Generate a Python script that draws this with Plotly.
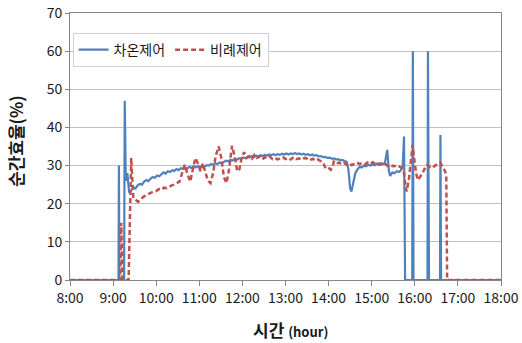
import plotly.graph_objects as go

# ---- data (time in decimal hours, efficiency in %) ----
x_ticks = [8, 9, 10, 11, 12, 13, 14, 15, 16, 17, 18]
x_tick_labels = ["8:00", "9:00", "10:00", "11:00", "12:00", "13:00",
                 "14:00", "15:00", "16:00", "17:00", "18:00"]

blue_name = "차온제어"
blue_t = [8.0, 9.125, 9.135, 9.145, 9.255, 9.27, 9.295, 9.33, 9.37, 9.42, 9.47, 9.52, 9.57, 9.62, 9.67,
          9.72, 9.77, 9.82, 9.87, 9.92, 9.97, 10.02, 10.07, 10.12, 10.17, 10.22, 10.27, 10.32, 10.37,
          10.42, 10.47, 10.52, 10.57, 10.62, 10.67, 10.72, 10.77, 10.82, 10.87, 10.92, 10.97, 11.02,
          11.07, 11.12, 11.17, 11.22, 11.27, 11.32, 11.37, 11.42, 11.47, 11.52, 11.57, 11.62, 11.67,
          11.72, 11.77, 11.82, 11.87, 11.92, 11.97, 12.02, 12.07, 12.12, 12.17, 12.22, 12.27, 12.32,
          12.37, 12.42, 12.47, 12.52, 12.57, 12.62, 12.67, 12.72, 12.77, 12.82, 12.87, 12.92, 12.97,
          13.02, 13.07, 13.12, 13.17, 13.22, 13.27, 13.32, 13.37, 13.42, 13.47, 13.52, 13.57, 13.62,
          13.67, 13.72, 13.77, 13.82, 13.87, 13.92, 13.97, 14.02, 14.07, 14.12, 14.17, 14.22, 14.27,
          14.32, 14.37, 14.42, 14.46, 14.5, 14.53, 14.57, 14.62, 14.67, 14.72, 14.77, 14.82, 14.87,
          14.92, 14.97, 15.02, 15.07, 15.12, 15.17, 15.22, 15.27, 15.31, 15.36, 15.4, 15.43, 15.48,
          15.53, 15.58, 15.63, 15.68, 15.72, 15.75, 15.775, 15.94, 15.955, 15.97, 16.295, 16.305,
          16.33, 16.585, 16.595, 16.61, 18.0]
blue_v = [0, 0, 30, 0, 0, 47, 26, 28, 23.2, 23.5, 24.3, 24, 24.8, 25.2, 25,
          25.8, 26.2, 25.9, 26.6, 27, 26.8, 27.4, 27.2, 27.8, 28.2, 27.9, 28.5, 28.3, 28.8,
          28.6, 29.1, 28.8, 29.3, 29.1, 29.5, 29.2, 29.7, 29.4, 29.8, 29.5, 29.9, 29.6,
          30, 29.7, 30.1, 30, 30.4, 30.2, 30.6, 30.4, 30.8, 30.6, 31, 31.3, 31.1,
          31.5, 31.3, 31.7, 31.5, 31.9, 31.7, 32.1, 31.9, 32.3, 32.1, 32.5, 32.2, 32.6,
          32.4, 32.7, 32.5, 32.8, 32.6, 32.9, 32.7, 33, 32.7, 33, 32.8, 33.1, 32.9,
          33.2, 32.9, 33.2, 33, 33.3, 33, 33.2, 32.9, 33.1, 32.8, 33, 32.7, 32.9,
          32.6, 32.7, 32.4, 32.5, 32.2, 32.3, 32, 32.1, 31.8, 31.9, 31.6, 31.7, 31.4,
          31.5, 31.2, 31, 29, 24, 23.2, 25.5, 28, 29, 29.7, 29.5, 30, 29.8,
          30.2, 30, 30.3, 30.1, 30.5, 30.2, 30.6, 30.4, 30.8, 34.1, 28.5, 27.3, 28.2,
          28, 28.5, 28.3, 28.8, 30, 37.6, 0, 0, 60, 0, 0, 60,
          0, 0, 38, 0, 0]

red_name = "비례제어"
red_t = [8.0, 9.165, 9.19, 9.215, 9.36, 9.42, 9.47, 9.52, 9.58, 9.63, 9.7, 9.76, 9.82, 9.88, 9.94,
         10.0, 10.06, 10.12, 10.18, 10.24, 10.3, 10.36, 10.42, 10.48, 10.54, 10.6, 10.66, 10.72,
         10.79, 10.85, 10.91, 10.97, 11.03, 11.08, 11.14, 11.2, 11.26, 11.32, 11.38, 11.45, 11.51,
         11.57, 11.63, 11.69, 11.76, 11.82, 11.88, 11.93, 11.98, 12.04, 12.1, 12.16, 12.22, 12.28,
         12.34, 12.4, 12.46, 12.52, 12.58, 12.64, 12.7, 12.76, 12.82, 12.88, 12.94, 13.0, 13.06,
         13.12, 13.19, 13.25, 13.31, 13.38, 13.44, 13.51, 13.57, 13.63, 13.69, 13.75, 13.81, 13.87,
         13.93, 13.99, 14.05, 14.09, 14.12, 14.18, 14.24, 14.3, 14.36, 14.42, 14.48, 14.54, 14.6,
         14.66, 14.72, 14.78, 14.84, 14.9, 14.96, 15.02, 15.08, 15.14, 15.2, 15.26, 15.32, 15.38,
         15.44, 15.5, 15.56, 15.62, 15.68, 15.74, 15.78, 15.81, 15.86, 15.91, 15.95, 15.99, 16.03,
         16.07, 16.12, 16.18, 16.24, 16.29, 16.35, 16.41, 16.47, 16.53, 16.59, 16.64, 16.7, 16.73,
         16.75, 18.0]
red_v = [0, 0, 15, 0, 0, 32, 21.5, 21, 20.5, 21, 21.8, 22.2, 22.5, 23, 23.2,
         23.3, 23.8, 23.6, 24.2, 24.1, 24.5, 24.8, 25, 25.4, 25.8, 28, 30.2, 28,
         25.8, 29, 32, 30.5, 28.5, 30.6, 28.5, 26, 25.4, 28, 32.5, 35, 32,
         27, 25.4, 29, 35.2, 32.5, 28.5, 29, 32, 33.5, 32, 32.5, 31.8, 32.8,
         32, 32.4, 31.6, 32.2, 31.8, 32.3, 31.7, 32, 31.6, 31.9, 32.2, 31.7, 32,
         31.6, 32.2, 31.7, 31.9, 31.5, 32, 31.8, 31.4, 31.8, 31.3, 31.6, 31.2, 30.8,
         29.3, 29.5, 28.9, 29.6, 31, 30.4, 30.8, 30.3, 30.7, 30.2, 30.6, 30.1, 30.5,
         30.8, 30.4, 30.7, 30.3, 30.8, 30.4, 30.9, 30.5, 30.7, 30.3, 30.8, 30.4, 29.8,
         29.6, 30, 29.7, 29.9, 29.5, 28.9, 25, 23.2, 26.2, 31, 35.4, 31.5, 28,
         26.2, 27, 28, 29.5, 30.2, 29.6, 29.3, 30, 30.3, 30.8, 29.7, 28.6, 27.5,
         0, 0]

y_title = "순간효율(%)"
x_title_main = "시간"
x_title_sub = "(hour)"

FONT = "Noto Sans CJK KR, Malgun Gothic, sans-serif"
AXIS_COLOR = "#868686"

fig = go.Figure()
fig.add_trace(go.Scatter(x=blue_t, y=blue_v, mode="lines", name=blue_name,
                         line=dict(color="#4F81BD", width=2.2)))
fig.add_trace(go.Scatter(x=red_t, y=red_v, mode="lines", name=red_name,
                         line=dict(color="#C0504D", width=2.5, dash="5px,3px")))

fig.update_layout(
    width=522, height=343,
    autosize=False,
    margin=dict(l=70, r=21, t=13, b=63, pad=0, autoexpand=False),
    paper_bgcolor="white", plot_bgcolor="white",
    font=dict(family=FONT, size=14, color="#1a1a1a"),
    showlegend=True,
    legend=dict(orientation="h", x=0.006, y=0.925, xanchor="left", yanchor="top",
                bgcolor="white", bordercolor="#D0D0D0", borderwidth=1,
                font=dict(family=FONT, size=14, color="#1a1a1a"),
                itemwidth=30, tracegroupgap=0),
    xaxis=dict(range=[8, 18], tickmode="array", tickvals=x_ticks, ticktext=x_tick_labels,
               automargin=False,
               showgrid=False, zeroline=False, showline=True, linecolor=AXIS_COLOR,
               linewidth=1, mirror=True, ticks="outside", ticklen=5, tickcolor=AXIS_COLOR,
               tickfont=dict(size=14)),
    yaxis=dict(range=[0, 70], dtick=10, showgrid=True, gridcolor="#C0C0C0", gridwidth=1,
               automargin=False,
               zeroline=False, showline=True, linecolor=AXIS_COLOR, linewidth=1, mirror=True,
               ticks="outside", ticklen=4, tickcolor=AXIS_COLOR, tickfont=dict(size=14)),
    annotations=[
        dict(text="<b>" + y_title + "</b>", xref="paper", yref="paper",
             x=-0.128, y=0.52, xanchor="center", yanchor="middle", textangle=-90,
             showarrow=False, font=dict(family=FONT, size=17, color="#1a1a1a")),
        dict(text="<b>" + x_title_main + " </b><b><span style='font-size:13px'>" + x_title_sub + "</span></b>",
             xref="paper", yref="paper", x=0.512, y=-0.187, xanchor="center", yanchor="middle",
             showarrow=False, font=dict(family=FONT, size=17, color="#1a1a1a")),
    ],
)

fig.write_html("out.html", config={"displayModeBar": False},
               post_script="document.body.style.margin='0';document.body.style.overflow='hidden';")
